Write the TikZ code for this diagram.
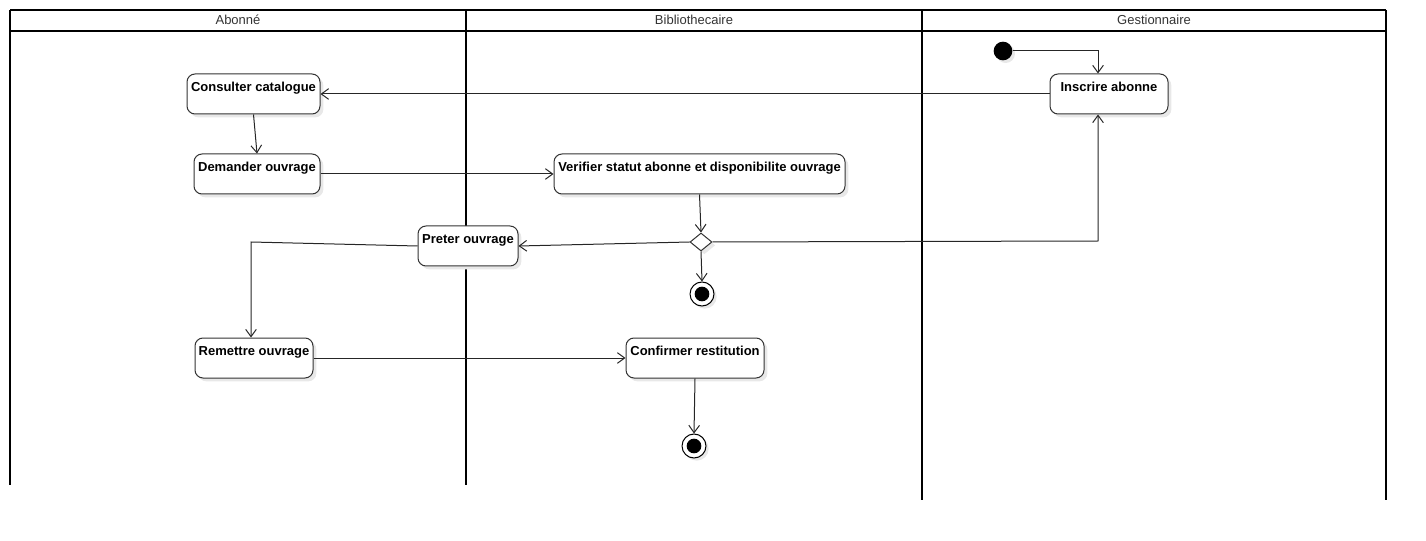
\documentclass[tikz,border=0pt]{standalone}
\usepackage{fontspec}
\setmainfont{Liberation Sans}
\usetikzlibrary{arrows.meta,shapes.geometric,shadows}

\tikzset{
  act/.style={draw=black!80,line width=0.75pt,rounded corners=6pt,fill=white,
    inner sep=0pt,text height=13pt,text depth=17pt,
    font=\fontsize{9.75}{11}\selectfont\bfseries,
    drop shadow={shadow xshift=2.5pt,shadow yshift=-2.5pt,fill=black!9,opacity=1}},
  decide/.style={diamond,draw=black!80,line width=0.75pt,fill=white,inner sep=0pt,
    minimum width=16.5pt,minimum height=13.5pt,
    drop shadow={shadow xshift=2.5pt,shadow yshift=-2.5pt,fill=black!9,opacity=1}},
  start/.style={circle,fill=black,inner sep=0pt,minimum size=14pt,
    drop shadow={shadow xshift=2pt,shadow yshift=-2pt,fill=black!9,opacity=1}},
  finish/.style={circle,draw=black,line width=0.75pt,fill=white,inner sep=0pt,
    minimum size=18pt,
    drop shadow={shadow xshift=2pt,shadow yshift=-2pt,fill=black!9,opacity=1}},
  flow/.style={draw=black!85,line width=0.75pt,-{Straight Barb[length=5.5pt,width=8pt]}},
  lane/.style={line width=1.5pt},
  lanetitle/.style={font=\fontsize{9.75}{11}\selectfont,text=black!80}
}

\begin{document}
\begin{tikzpicture}[x=0.75pt,y=-0.75pt]
  \useasboundingbox (0,0) rectangle (1426,541);
  % swimlanes
  \draw[lane] (10,10) -- (1386,10);
  \draw[lane] (10,31) -- (1386,31);
  \draw[lane] (10,10) -- (10,485);
  \draw[lane] (466,10) -- (466,485);
  \draw[lane] (922,10) -- (922,500);
  \draw[lane] (1386,10) -- (1386,500);
  \node[lanetitle] (tab) at (238,20) {Abonné};
  \node[lanetitle] (tbib) at (694,20) {Bibliothecaire};
  \node[lanetitle] (tges) at (1154,20) {Gestionnaire};

  % activities
  \node[act,minimum width=99.75pt] (cons) at (253.5,94) {Consulter catalogue};
  \node[act,minimum width=94.5pt] (dem) at (257,174) {Demander ouvrage};
  \node[act,minimum width=218.25pt] (verif) at (699.5,174) {Verifier statut abonne et disponibilite ouvrage};
  \node[act,minimum width=88.5pt] (ins) at (1109,94) {Inscrire abonne};
  \node[act,minimum width=75pt] (pret) at (468,246) {Preter ouvrage};
  \node[act,minimum width=88.5pt] (rem) at (254,358) {Remettre ouvrage};
  \node[act,minimum width=103.5pt] (conf) at (695,358) {Confirmer restitution};
  \node[decide] (dec) at (701,242) {};
  \node[start] (init) at (1003,51) {};
  \node[finish] (fin1) at (702,294) {};
  \node[finish] (fin2) at (694,446) {};
  \fill (fin1) circle (5.5pt);
  \fill (fin2) circle (5.5pt);
  \coordinate (bendl) at (251,242);
  \coordinate (bendr) at (1098,241);

  % flows
  \draw[flow] (init.east) -| ([xshift=-8.25pt]ins.north);
  \draw[flow] (ins.west) -- (cons.east);
  \draw[flow] (cons.south) -- (dem.north);
  \draw[flow] (dem.east) -- (verif.west);
  \draw[flow] (verif.south) -- (dec.north);
  \draw[flow] (dec.west) -- (pret.east);
  \draw[flow] (dec.east) -- (bendr) -- ([xshift=-8.25pt]ins.south);
  \draw[flow] (dec.south) -- (fin1.north);
  \draw[flow] (pret.west) -- (bendl) -- (bendl |- rem.north);
  \draw[flow] (rem.east) -- (conf.west);
  \draw[flow] (conf.south) -- (fin2.north);
\end{tikzpicture}
\end{document}
